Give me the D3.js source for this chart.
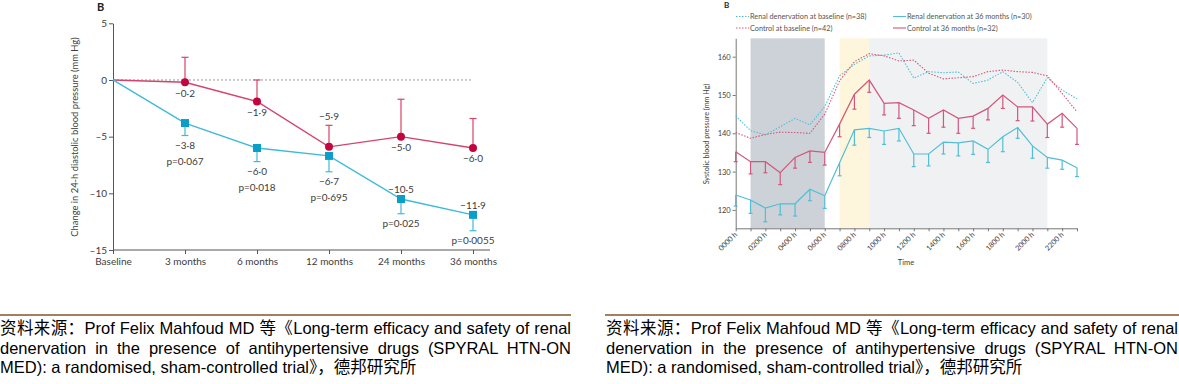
<!DOCTYPE html>
<html>
<head>
<meta charset="utf-8">
<script src="https://cdn.jsdelivr.net/npm/d3@7"></script>
<style>
  body { margin: 0; background: #fff; width: 1179px; height: 384px; overflow: hidden; position: relative; }
  svg { position: absolute; left: 0; top: 0; }
  .caption {
    position: absolute;
    font-family: 'Liberation Sans', Arial, 'Noto Sans CJK SC', sans-serif;
    font-size: 16.5px;
    line-height: 19.5px;
    color: #000;
    text-align: justify;
  }
  .rule { position: absolute; height: 2px; background: #a0805f; }
</style>
</head>
<body>
<div class="rule" style="left:0px; top:314px; width:571px"></div>
<div class="rule" style="left:605px; top:314px; width:574px"></div>
<div class="caption" style="left:0px; top:319px; width:571px">资料来源：Prof Felix Mahfoud MD 等《Long-term efficacy and safety of renal denervation in the presence of antihypertensive drugs (SPYRAL HTN-ON MED): a randomised, sham-controlled trial》，德邦研究所</div>
<div class="caption" style="left:606px; top:319px; width:572px">资料来源：Prof Felix Mahfoud MD 等《Long-term efficacy and safety of renal denervation in the presence of antihypertensive drugs (SPYRAL HTN-ON MED): a randomised, sham-controlled trial》，德邦研究所</div>
<svg id="chart" width="1179" height="384"></svg>
<script>
// ---- left panel: change in 24-h diastolic BP
const months = ['Baseline', '3 months', '6 months', '12 months', '24 months', '36 months']
const controlChange = [0, -0.2, -1.9, -5.9, -5.0, -6.0]
const controlUpper = [null, 2.0, 0.0, -4.0, -1.7, -3.4]
const renalChange = [0, -3.8, -6.0, -6.7, -10.5, -11.9]
const renalLower = [null, -4.9, -7.2, -8.1, -11.8, -13.3]
const pValues = ['', 'p=0·067', 'p=0·018', 'p=0·695', 'p=0·025', 'p=0·0055']
const leftTicks = [5, 0, -5, -10, -15]

// ---- right panel: hourly systolic BP
const hours = [0, 1, 2, 3, 4, 5, 6, 7, 8, 9, 10, 11, 12, 13, 14, 15, 16, 17, 18, 19, 20, 21, 22, 23]
const hourLabels = ['0000 h', '0200 h', '0400 h', '0600 h', '0800 h', '1000 h', '1200 h', '1400 h', '1600 h', '1800 h', '2000 h', '2200 h']
const renalBaseline = [144.5, 140.7, 139.6, 141.7, 143.9, 142.2, 147.0, 155.0, 158.0, 160.2, 160.4, 161.0, 154.4, 156.1, 155.8, 156.0, 153.0, 153.9, 156.1, 153.3, 148.0, 154.5, 151.3, 149.0]
const controlBaseline = [140.2, 138.7, 139.7, 140.3, 140.2, 140.0, 145.0, 153.7, 158.7, 160.8, 160.2, 158.9, 159.1, 155.7, 154.2, 154.5, 154.8, 156.1, 156.5, 156.1, 155.9, 155.0, 150.4, 145.6]
const renal36 = [123.9, 122.6, 120.5, 121.6, 121.6, 125.4, 123.7, 132.3, 140.9, 141.3, 140.6, 141.3, 134.6, 134.6, 137.7, 137.5, 138.0, 135.8, 139.1, 141.5, 136.7, 133.7, 133.0, 131.0]
const renal36Err = [2.9, 3.5, 3.6, 2.9, 3.2, 3.0, 3.3, 3.4, 4.0, 2.4, 3.5, 3.3, 3.3, 3.1, 3.1, 3.4, 3.5, 3.4, 3.9, 2.8, 3.2, 2.8, 2.4, 2.3]
const control36 = [135.2, 132.6, 132.6, 129.7, 133.7, 135.4, 135.0, 142.4, 150.2, 153.9, 147.8, 148.0, 146.1, 143.9, 146.1, 143.9, 144.5, 146.5, 150.0, 146.9, 146.9, 142.4, 145.2, 141.3]
const control36Err = [2.6, 3.2, 2.9, 3.1, 2.8, 3.0, 3.3, 3.3, 3.9, 3.2, 3.0, 4.1, 4.1, 3.9, 4.5, 3.9, 3.2, 3.0, 3.5, 3.6, 3.7, 3.5, 3.6, 4.2]
const rightTicks = [120, 130, 140, 150, 160]
// shaded periods [start hour, end hour]
const nightBand = [1, 6]
const morningBand = [7, 9]
const dayBand = [9, 21]
const legendItems = [
  { label: 'Renal denervation at baseline (n=38)', group: 'renal', dotted: true },
  { label: 'Renal denervation at 36 months (n=30)', group: 'renal', dotted: false },
  { label: 'Control at baseline (n=42)', group: 'control', dotted: true },
  { label: 'Control at 36 months (n=32)', group: 'control', dotted: false }
]

const font = 'Lato, "Open Sans", sans-serif'
const textColor = '#3d3d3d'
const svg = d3.select('#chart')

const fmt = v => d3.format('.1f')(v).replace('-', '–').replace('.', '·')

// ================= LEFT PANEL =================
const left = svg.append('g')
const xL = d3.scalePoint().domain(months).range([113, 473])
const yL = d3.scaleLinear().domain([-15, 5]).range([250, 23.3])

left.append('text')
  .attr('x', 97).attr('y', 11)
  .attr('font-family', font).attr('font-weight', 700).attr('font-size', 11)
  .attr('fill', '#222').text('B')

const yAxisL = d3.axisLeft(yL).tickValues(leftTicks).tickSize(4).tickSizeOuter(0).tickPadding(2)
  .tickFormat(d => String(d).replace('-', '–'))
left.append('g').attr('transform', 'translate(113,0)').call(yAxisL)
  .call(g => g.selectAll('text').attr('font-family', font).attr('font-size', 10).attr('fill', textColor))
  .call(g => g.selectAll('line, path').attr('stroke', '#555'))

const xAxisL = d3.axisBottom(xL).tickSize(4).tickSizeOuter(0).tickPadding(4)
left.append('g').attr('transform', 'translate(0,250)').call(xAxisL)
  .call(g => g.select('.domain').remove())
  .call(g => g.selectAll('text').attr('font-family', font).attr('font-size', 10).attr('fill', textColor))
  .call(g => g.selectAll('line').attr('stroke', '#555'))
left.append('line')
  .attr('x1', 113).attr('x2', 490).attr('y1', 250).attr('y2', 250)
  .attr('stroke', '#555')

left.append('text')
  .attr('transform', 'translate(78,' + 137 + ') rotate(-90)')
  .attr('text-anchor', 'middle')
  .attr('font-family', font).attr('font-size', 9.4).attr('fill', textColor)
  .text('Change in 24-h diastolic blood pressure (mm Hg)')

left.append('line')
  .attr('x1', xL(months[0])).attr('x2', xL(months[months.length - 1]))
  .attr('y1', yL(0)).attr('y2', yL(0))
  .attr('stroke', '#999').attr('stroke-width', 1).attr('stroke-dasharray', '2,2')

const ctlLine = '#d4436c'
const ctlMark = '#c4043f'
const rdnLine = '#3ebad8'
const rdnMark = '#0b9ec8'

const leftLine = d3.line().x((d, i) => xL(months[i])).y(d => yL(d))

left.append('path').datum(controlChange).attr('d', leftLine)
  .attr('fill', 'none').attr('stroke', ctlLine).attr('stroke-width', 1.4)
left.append('path').datum(renalChange).attr('d', leftLine)
  .attr('fill', 'none').attr('stroke', rdnLine).attr('stroke-width', 1.4)

const idx = [1, 2, 3, 4, 5]

// error bars
idx.forEach(i => {
  const x = xL(months[i])
  left.append('line').attr('x1', x).attr('x2', x)
    .attr('y1', yL(controlChange[i])).attr('y2', yL(controlUpper[i]))
    .attr('stroke', ctlLine).attr('stroke-width', 1.2)
  left.append('line').attr('x1', x - 3.5).attr('x2', x + 3.5)
    .attr('y1', yL(controlUpper[i])).attr('y2', yL(controlUpper[i]))
    .attr('stroke', ctlLine).attr('stroke-width', 1.2)
  left.append('line').attr('x1', x).attr('x2', x)
    .attr('y1', yL(renalChange[i])).attr('y2', yL(renalLower[i]))
    .attr('stroke', rdnLine).attr('stroke-width', 1.2)
  left.append('line').attr('x1', x - 3.5).attr('x2', x + 3.5)
    .attr('y1', yL(renalLower[i])).attr('y2', yL(renalLower[i]))
    .attr('stroke', rdnLine).attr('stroke-width', 1.2)
})

left.selectAll('.ctl-dot').data(idx).enter().append('circle')
  .attr('cx', i => xL(months[i])).attr('cy', i => yL(controlChange[i]))
  .attr('r', 4).attr('fill', ctlMark)
left.selectAll('.rdn-sq').data(idx).enter().append('rect')
  .attr('x', i => xL(months[i]) - 4).attr('y', i => yL(renalChange[i]) - 4)
  .attr('width', 8).attr('height', 8).attr('fill', rdnMark)

const label = (x, y, t) => left.append('text')
  .attr('x', x).attr('y', y).attr('dy', '0.35em')
  .attr('text-anchor', 'middle')
  .attr('font-family', font).attr('font-size', 10).attr('fill', textColor)
  .text(t)

idx.forEach(i => {
  const x = xL(months[i])
  // control value labels: below the dot, except where the bar sits there
  if (i === 3) label(x, yL(controlUpper[i]) - 8.5, fmt(controlChange[i]))
  else label(x, yL(controlChange[i]) + 11, fmt(controlChange[i]))
  // renal labels
  if (i <= 3) {
    const yb = yL(renalLower[i])
    label(x, yb + 10, fmt(renalChange[i]))
    label(x, yb + 26, pValues[i])
  } else {
    label(x, yL(renalChange[i]) - 9.5, fmt(renalChange[i]))
    label(x, yL(renalLower[i]) + 9.5, pValues[i])
  }
})

// ================= RIGHT PANEL =================
const right = svg.append('g')
const xR = d3.scaleLinear().domain([0, 23]).range([735.7, 1077])
const yR = d3.scaleLinear().domain([115.2, 164.8]).range([228.3, 38.3])

right.append('text')
  .attr('x', 724).attr('y', 8)
  .attr('font-family', font).attr('font-weight', 700).attr('font-size', 8)
  .attr('fill', '#222').text('B')

const bands = [
  { span: nightBand, color: '#cdd2d8' },
  { span: morningBand, color: '#fdf6dc' },
  { span: dayBand, color: '#f0f1f3' }
]
right.selectAll('.band').data(bands).enter().append('rect')
  .attr('x', d => xR(d.span[0])).attr('width', d => xR(d.span[1]) - xR(d.span[0]))
  .attr('y', yR.range()[1]).attr('height', yR.range()[0] - yR.range()[1])
  .attr('fill', d => d.color)

const yAxisR = d3.axisLeft(yR).tickValues(rightTicks).tickSize(3).tickSizeOuter(0).tickPadding(2)
right.append('g').attr('transform', 'translate(735.7,0)').call(yAxisR)
  .call(g => g.selectAll('text').attr('font-family', font).attr('font-size', 7.5).attr('fill', textColor))
  .call(g => g.selectAll('line, path').attr('stroke', '#777'))

const xAxisR = d3.axisBottom(xR).tickValues(hours).tickSize(3).tickSizeOuter(0).tickFormat('')
right.append('g').attr('transform', 'translate(0,228.3)').call(xAxisR)
  .call(g => g.selectAll('line, path').attr('stroke', '#777'))

right.selectAll('.hour-label').data(hourLabels).enter().append('text')
  .attr('transform', (d, i) => 'translate(' + (xR(hours[i * 2]) + 2) + ',235) rotate(-45)')
  .attr('text-anchor', 'end')
  .attr('font-family', font).attr('font-size', 7.3).attr('fill', textColor)
  .text(d => d)

right.append('text')
  .attr('x', 906).attr('y', 264.5).attr('text-anchor', 'middle')
  .attr('font-family', font).attr('font-size', 7.5).attr('fill', textColor)
  .text('Time')

right.append('text')
  .attr('transform', 'translate(709,134) rotate(-90)')
  .attr('text-anchor', 'middle')
  .attr('font-family', font).attr('font-size', 7.2).attr('fill', textColor)
  .text('Systolic blood pressure (mm Hg)')

const pink = '#d2577b'
const cyan = '#52bed6'
const rightLine = d3.line().x((d, i) => xR(hours[i])).y(d => yR(d))

right.append('path').datum(renalBaseline).attr('d', rightLine)
  .attr('fill', 'none').attr('stroke', cyan).attr('stroke-width', 1.1).attr('stroke-dasharray', '1.5,1.5')
right.append('path').datum(controlBaseline).attr('d', rightLine)
  .attr('fill', 'none').attr('stroke', pink).attr('stroke-width', 1.1).attr('stroke-dasharray', '1.5,1.5')

function drawSeries(values, errs, color) {
  right.append('path').datum(values).attr('d', rightLine)
    .attr('fill', 'none').attr('stroke', color).attr('stroke-width', 1.2)
  hours.forEach((h, i) => {
    const x = xR(h)
    const yb = yR(values[i] - errs[i])
    right.append('line').attr('x1', x).attr('x2', x)
      .attr('y1', yR(values[i])).attr('y2', yb)
      .attr('stroke', color).attr('stroke-width', 1.2)
    right.append('line').attr('x1', x - 2).attr('x2', x + 2)
      .attr('y1', yb).attr('y2', yb)
      .attr('stroke', color).attr('stroke-width', 1.2)
  })
}
drawSeries(control36, control36Err, pink)
drawSeries(renal36, renal36Err, cyan)

// legend
const legend = right.selectAll('.legend').data(legendItems).enter().append('g')
  .attr('transform', (d, i) => 'translate(' + (i % 2 === 0 ? 736 : 893) + ',' + (i < 2 ? 16.5 : 28) + ')')
legend.append('line')
  .attr('x1', 0).attr('x2', 13).attr('y1', 0).attr('y2', 0)
  .attr('stroke', d => d.group === 'renal' ? cyan : pink)
  .attr('stroke-width', 1.1)
  .attr('stroke-dasharray', d => d.dotted ? '1.5,1.5' : null)
legend.append('text')
  .attr('x', 14).attr('y', 0).attr('dy', '0.35em')
  .attr('font-family', font).attr('font-size', 7.3).attr('fill', '#555')
  .text(d => d.label)
</script>
</body>
</html>
